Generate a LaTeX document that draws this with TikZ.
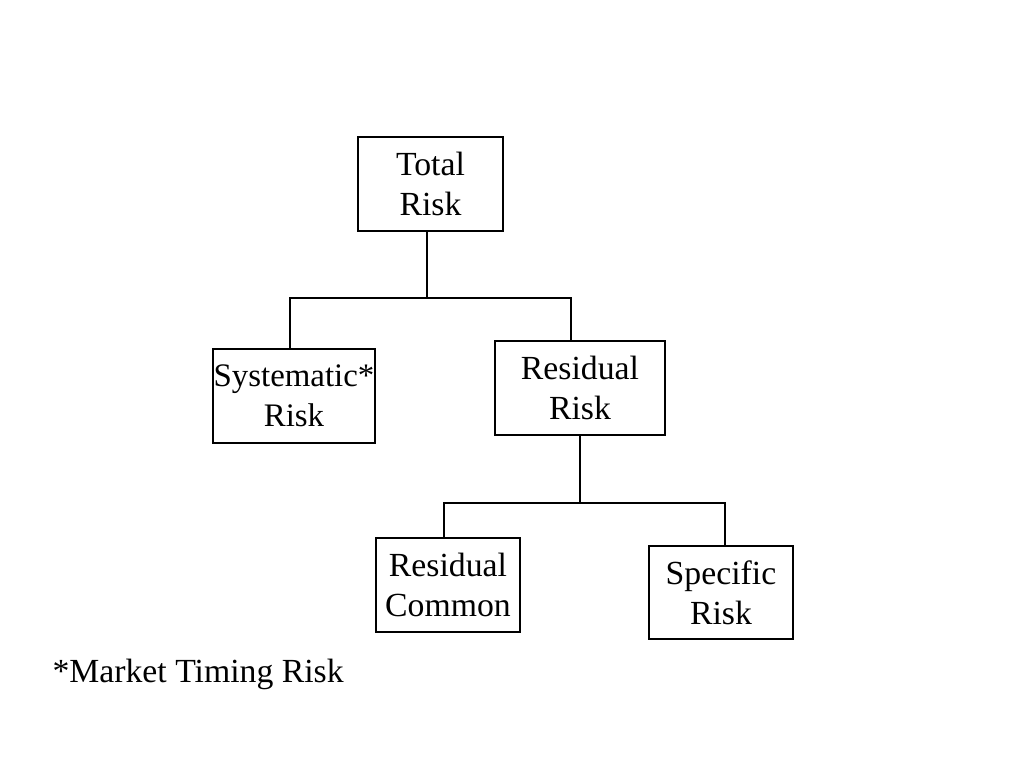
\documentclass[tikz,border=0pt]{standalone}
\usepackage{fontspec}
\setmainfont{Liberation Serif}
\usepackage{tikz}

\begin{document}
\begin{tikzpicture}[riskbox/.style={shape=rectangle,draw=black,align=center,inner sep=0pt,minimum height=0.94cm},
	font=\fontsize{9.6}{11.4}\selectfont,line width=0.3pt]
	\useasboundingbox (0,0) rectangle (10.24,7.68);

	\node[riskbox,minimum width=1.45cm] (t) at (4.305, 5.84)     {Total\\Risk};
	\node[riskbox,minimum width=1.62cm,font=\fontsize{9.35}{11.4}\selectfont] (s) at (2.94, 3.72)     {Systematic*\\Risk};
	\node[riskbox,minimum width=1.70cm] (r) at (5.80, 3.80)     {Residual\\Risk};
	\node[riskbox,minimum width=1.44cm] (c) at (4.48, 1.83)     {Residual\\Common};
	\node[riskbox,minimum width=1.44cm,minimum height=0.93cm] (p) at (7.21, 1.755)     {Specific\\Risk};
	\node[anchor=west,inner sep=0pt] (m) at (0.52, 0.94)     {*Market Timing Risk};

	\coordinate (tj) at (4.27, 4.70);
	\coordinate (rj) at (5.80, 2.65);

	\draw (t.south -| tj) -- (tj);
	\draw ([xshift=-0.04cm]s.north) |- (tj) -| ([xshift=-0.09cm]r.north);
	\draw (r.south) -- (rj);
	\draw ([xshift=-0.04cm]c.north) |- (rj) -| ([xshift=0.04cm]p.north);

\end{tikzpicture}
\end{document}
